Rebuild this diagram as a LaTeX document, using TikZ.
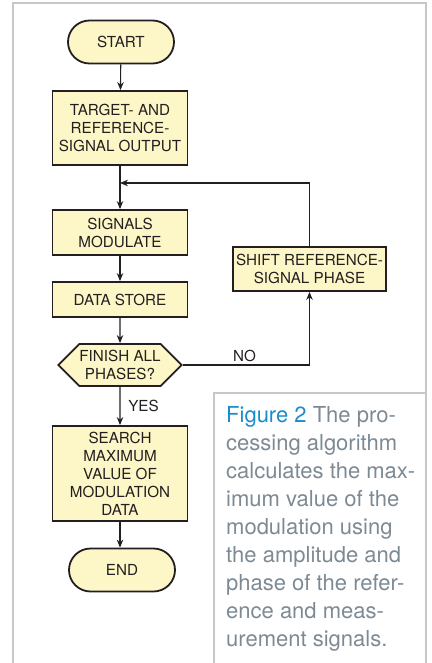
\documentclass[tikz,border=0pt]{standalone}
\usepackage{fontspec}
\setmainfont{TeX Gyre Heros}
\usetikzlibrary{shapes.misc,shapes.symbols,arrows.meta}
\definecolor{boxfill}{RGB}{253,247,200}
\definecolor{ink}{RGB}{35,31,32}
\definecolor{framegray}{RGB}{200,200,200}
\definecolor{capblue}{RGB}{26,140,201}
\definecolor{capgray}{RGB}{125,138,148}

\begin{document}
\begin{tikzpicture}[x=1pt,y=-1pt,
  box/.style={draw=ink,line width=1.8pt,fill=boxfill,text=ink,inner sep=0pt,align=center,font=\fontsize{15.2}{18}\selectfont},
  term/.style={box,rounded rectangle,minimum width=106pt,minimum height=43pt},
  proc/.style={box,rectangle,minimum width=135pt},
  dec/.style={box,signal,signal to=west and east,signal pointer angle=90,minimum width=122pt,minimum height=42pt},
  flow/.style={draw=ink,line width=1.1pt,-{Stealth[length=8pt,width=6.5pt]}},
  lbl/.style={text=ink,inner sep=0pt,font=\fontsize{15.2}{18}\selectfont}]
\useasboundingbox (0,0) rectangle (431,663);
% frame and caption box
\draw[framegray,line width=1.5pt] (13,663) -- (13,3) -- (426,3) -- (426,663);
\draw[framegray,line width=1.5pt] (214,663) -- (214,393) -- (426,393);
% flowchart
\node[term] (start) at (121,42) {START};
\node[proc,minimum height=74pt] (output) at (120,128) {TARGET- AND\\REFERENCE-\\SIGNAL OUTPUT};
\node[proc,minimum height=45pt] (modulate) at (120,232.5) {SIGNALS\\MODULATE};
\node[proc,minimum height=35pt] (store) at (120,299.5) {DATA STORE};
\node[dec] (finish) at (120,365) {FINISH ALL\\PHASES?};
\node[proc,minimum width=153pt,minimum height=44pt] (shift) at (309.5,269) {SHIFT REFERENCE-\\SIGNAL PHASE};
\node[proc,minimum height=95pt] (search) at (120,473.5) {SEARCH\\MAXIMUM\\VALUE OF\\MODULATION\\DATA};
\node[term] (end) at (122,570) {END};
\coordinate (merge) at (120,183);
\draw[flow] (start) -- (output);
\draw[flow] (output) -- (modulate);
\draw[flow] (modulate) -- (store);
\draw[flow] (store) -- (finish);
\draw[flow] (finish) -- (search);
\draw[flow] (search.south) -- (search.south |- end.north);
\draw[flow] (finish.east) -| (shift.south);
\draw[flow] (shift.north) |- (merge);
\node[lbl] (no) at (244.5,356) {NO};
\node[lbl] (yes) at (143.5,406) {YES};
% caption
\node[anchor=north west,inner sep=0pt,align=left,text=capgray,font=\fontsize{22}{28}\selectfont] (caption) at (226,406)
  {\textcolor{capblue}{Figure 2} The pro-\\cessing algorithm\\calculates the max-\\imum value of the\\modulation using\\the amplitude and\\phase of the refer-\\ence and meas-\\urement signals.};
\end{tikzpicture}
\end{document}
